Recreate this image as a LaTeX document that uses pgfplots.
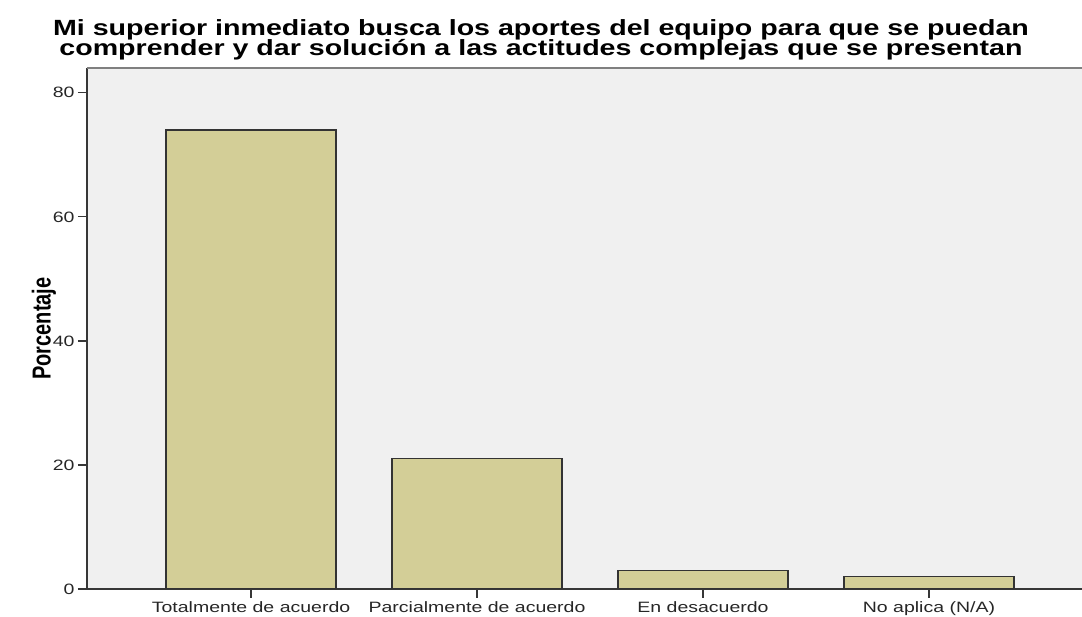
\documentclass[border=0pt]{standalone}
\usepackage{fontspec}
\setmainfont{Liberation Sans}[FakeStretch=1.3]
\newfontfamily\plainfont{Liberation Sans}
\usepackage{pgfplots}
\pgfplotsset{compat=1.18}
\definecolor{bg}{RGB}{240,240,240}
\definecolor{barfill}{RGB}{211,206,151}
\definecolor{axisgray}{RGB}{55,55,55}
\begin{document}
\begin{tikzpicture}
\begin{axis}[
  scale only axis, width=995pt, height=521pt,
  xmin=-0.726, xmax=3.677, ymin=0, ymax=84,
  axis background/.style={fill=bg},
  axis x line*=bottom, axis y line*=left,
  axis line style={draw=axisgray, line width=1.2pt},
  xtick={0,1,2,3},
  xticklabels={Totalmente de acuerdo, Parcialmente de acuerdo, En desacuerdo, No aplica (N/A)},
  ytick={0,20,40,60,80},
  tick align=outside, major tick length=9pt,
  tick style={draw=axisgray, line width=1.2pt},
  ticklabel style={font=\fontsize{15}{18}\selectfont, text=black!85},
  /pgf/number format/assume math mode=true,
  ylabel={\scalebox{1}[1.3]{\plainfont\bfseries\fontsize{20}{24}\selectfont Porcentaje}},
  ylabel style={at={(axis description cs:-0.0432,0.5)}, anchor=center},
]
\addplot[ybar, bar width=0.752, fill=barfill, draw=black!80, line width=1.2pt]
  coordinates {(0,74) (1,21) (2,3) (3,2)};
\draw[gray, line width=1.5pt] (rel axis cs:0,1) -- (rel axis cs:1,1);
\end{axis}
\node[anchor=base, font=\bfseries\fontsize{22}{24}\selectfont] at (454pt,553pt)
  {Mi superior inmediato busca los aportes del equipo para que se puedan};
\node[anchor=base, font=\bfseries\fontsize{22}{24}\selectfont] at (454pt,533pt)
  {comprender y dar solución a las actitudes complejas que se presentan};
\pgfresetboundingbox
\path[use as bounding box] (-87pt,-28pt) rectangle (995pt,589pt);
\end{tikzpicture}
\end{document}
